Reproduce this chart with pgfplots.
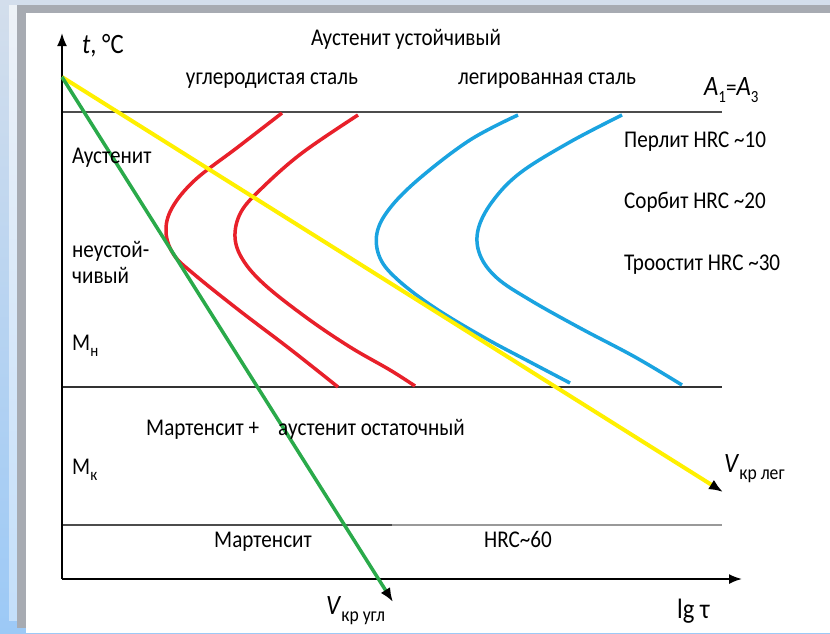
\documentclass[border=0pt]{standalone}
\usepackage{pgfplots}
\pgfplotsset{compat=1.18}
\usepackage{fontspec}
\setmainfont{Carlito}[FakeStretch=0.88]
\usetikzlibrary{arrows.meta}
\definecolor{cred}{HTML}{E8202A}
\definecolor{cblue}{HTML}{1AA3E0}
\definecolor{cgreen}{HTML}{2AAA4A}
\definecolor{cyel}{HTML}{FFF000}
\definecolor{bgtop}{HTML}{D3DEEC}
\definecolor{bgbot}{HTML}{9CC9F6}
\definecolor{frame}{HTML}{A7ABB2}
\newcommand\lab{\fontsize{24}{26}\selectfont}
\newcommand\sub[1]{\raisebox{-0.28em}{\fontsize{17}{18}\selectfont #1}}
\newcommand\vsub[1]{\raisebox{-0.25em}{\fontsize{20}{22}\selectfont #1}}
\begin{document}
\begin{tikzpicture}
\begin{axis}[scale only axis, width=830pt, height=633pt,
  xmin=0, xmax=830, ymin=0, ymax=633, y dir=reverse,
  hide axis, clip=false]
% background frame
\shade[top color=bgtop, bottom color=bgbot] (axis cs:0,0) rectangle (axis cs:830,633);
\fill[bgtop] (axis cs:0,0) rectangle (axis cs:830,5);
\shade[top color=white!60!bgtop, bottom color=white!40!bgbot] (axis cs:9,5) rectangle (axis cs:17,620);
\fill[frame] (axis cs:17,5) rectangle (axis cs:830,628);
\fill[white] (axis cs:26,13) rectangle (axis cs:830,633);
% horizontal lines
\addplot[black!70, line width=1.8pt] coordinates {(62,112) (722,112)};
\addplot[black!80, line width=1.8pt] coordinates {(62,387) (722,387)};
\addplot[black!70, line width=1.8pt] coordinates {(62,525) (392,525)};
\addplot[black!40, line width=1.8pt] coordinates {(392,525) (722,525)};
% axes
\addplot[black, line width=1.8pt, -{Latex[length=13pt,width=10pt]}] coordinates {(62,579) (62,33)};
\addplot[black, line width=1.8pt, -{Latex[length=13pt,width=10pt]}] coordinates {(62,579) (742,579)};
% C-curves
\addplot[cred, line width=3.5pt, smooth, tension=0.6] coordinates {
(282,113) (238,147) (195,180) (172,208) (166,232) (174,255) (195,275) (240,311) (290,349) (338,387)};
\addplot[cred, line width=3.5pt, smooth, tension=0.6] coordinates {
(358,115) (302,153) (262,188) (241,212) (235,237) (243,260) (265,285) (307,318) (350,347) (390,370) (415,386)};
\addplot[cblue, line width=3.5pt, smooth, tension=0.6] coordinates {
(518,115) (470,140) (420,178) (390,208) (377,233) (380,258) (398,280) (435,308) (485,338) (530,362) (570,383)};
\addplot[cblue, line width=3.5pt, smooth, tension=0.6] coordinates {
(622,115) (570,142) (520,173) (492,202) (478,230) (480,255) (497,278) (530,300) (580,328) (635,357) (682,385)};
% critical cooling rates
\addplot[cyel, line width=4pt, -{Latex[length=14pt,width=11pt,color=black]}] coordinates {(62,77) (723,492)};
\addplot[cgreen, line width=3.5pt, -{Latex[length=14pt,width=11pt,color=black]}] coordinates {(62,77) (393,602)};
% labels
\node[anchor=base west, font=\fontsize{28}{30}\selectfont, inner sep=0pt] at (axis cs:82,53) {\textit{t}, °C};
\node[anchor=base, font=\lab] at (axis cs:406,45) {Аустенит устойчивый};
\node[anchor=base, font=\lab] at (axis cs:272,84) {углеродистая сталь};
\node[anchor=base, font=\lab] at (axis cs:547,84) {легированная сталь};
\node[anchor=base west, font=\fontsize{28}{30}\selectfont, inner sep=0pt] at (axis cs:704,95) {\textit{A}\sub{1}{\lab =}\textit{A}\sub{3}};
\node[anchor=base west, font=\lab, inner sep=0pt] at (axis cs:72,163) {Аустенит};
\node[anchor=base west, font=\lab, inner sep=0pt] at (axis cs:72,257) {неустой-};
\node[anchor=base west, font=\lab, inner sep=0pt] at (axis cs:72,283) {чивый};
\node[anchor=base west, font=\lab, inner sep=0pt] at (axis cs:72,350) {М\sub{н}};
\node[anchor=base west, font=\lab, inner sep=0pt] at (axis cs:624,147) {Перлит HRC \textasciitilde10};
\node[anchor=base west, font=\lab, inner sep=0pt] at (axis cs:624,208) {Сорбит HRC \textasciitilde20};
\node[anchor=base west, font=\lab, inner sep=0pt] at (axis cs:624,270) {Троостит HRC \textasciitilde30};
\node[anchor=base west, font=\lab, inner sep=0pt] at (axis cs:146,435) {Мартенсит +};
\node[anchor=base west, font=\lab, inner sep=0pt] at (axis cs:278,435) {аустенит остаточный};
\node[anchor=base west, font=\lab, inner sep=0pt] at (axis cs:72,474) {М\sub{к}};
\node[anchor=base west, font=\lab, inner sep=0pt] at (axis cs:214,547) {Мартенсит};
\node[anchor=base west, font=\lab, inner sep=0pt] at (axis cs:484,547) {HRC\textasciitilde60};
\node[anchor=base west, font=\fontsize{28}{30}\selectfont, inner sep=0pt] at (axis cs:326,614) {\textit{V}\vsub{кр угл}};
\node[anchor=base west, font=\fontsize{28}{30}\selectfont, inner sep=0pt] at (axis cs:677,618) {lg τ};
\node[anchor=base west, font=\fontsize{28}{30}\selectfont, inner sep=0pt] at (axis cs:724,472) {\textit{V}\vsub{кр лег}};
\end{axis}
\end{tikzpicture}
\end{document}
